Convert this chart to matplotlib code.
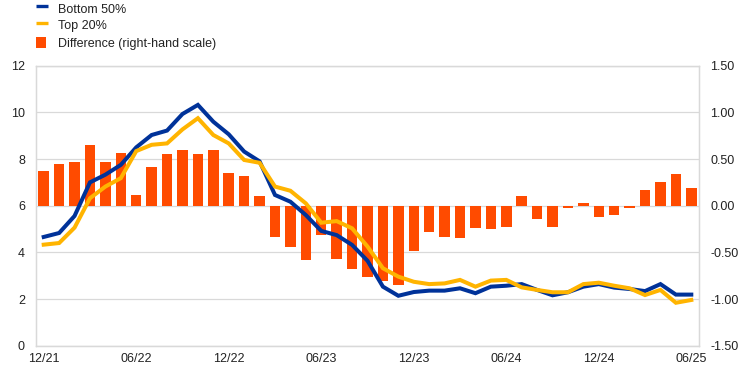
import matplotlib
matplotlib.use("Agg")
import matplotlib.pyplot as plt
from matplotlib.lines import Line2D
from matplotlib.patches import Rectangle

plt.rcParams['font.family'] = ['Liberation Sans', 'DejaVu Sans']

# ---- data (monthly, 12/21 .. 06/25) ----
bottom50 = [4.66, 4.83, 5.56, 7.00, 7.33, 7.75, 8.50, 9.03, 9.22, 9.93, 10.32, 9.60, 9.06, 8.32, 7.90,
            6.46, 6.17, 5.60, 4.92, 4.74, 4.32, 3.64, 2.53, 2.14, 2.30, 2.36, 2.36, 2.46, 2.25, 2.53,
            2.57, 2.64, 2.39, 2.16, 2.29, 2.53, 2.64, 2.49, 2.43, 2.34, 2.64, 2.19, 2.19]
top20 = [4.33, 4.40, 5.06, 6.32, 6.82, 7.18, 8.34, 8.61, 8.67, 9.27, 9.75, 9.03, 8.67, 7.96, 7.84,
         6.82, 6.64, 6.10, 5.27, 5.34, 5.03, 4.25, 3.32, 2.96, 2.74, 2.64, 2.67, 2.82, 2.53, 2.79,
         2.82, 2.50, 2.39, 2.29, 2.29, 2.64, 2.70, 2.57, 2.46, 2.17, 2.39, 1.84, 1.96]
difference = [0.37, 0.45, 0.47, 0.65, 0.47, 0.56, 0.11, 0.41, 0.55, 0.60, 0.55, 0.60, 0.35, 0.32, 0.10,
              -0.33, -0.44, -0.58, -0.31, -0.57, -0.675, -0.76, -0.81, -0.85, -0.48, -0.28, -0.33, -0.35,
              -0.235, -0.25, -0.225, 0.10, -0.14, -0.225, -0.02, 0.03, -0.12, -0.10, -0.02, 0.17, 0.25,
              0.34, 0.19]
tick_labels = ['12/21', '06/22', '12/22', '06/23', '12/23', '06/24', '12/24', '06/25']
tick_month_index = [0, 6, 12, 18, 24, 30, 36, 42]
left_ticks = [0, 2, 4, 6, 8, 10, 12]
right_ticks = [-1.5, -1.0, -0.5, 0.0, 0.5, 1.0, 1.5]
series_names = ['Bottom 50%', 'Top 20%', 'Difference (right-hand scale)']

BLUE = '#003299'
YELLOW = '#FFB400'
ORANGE = '#FF4B00'
GRID = '#d9d9d9'
TXT = '#222222'

W, H = 742, 371
fig = plt.figure(figsize=(W / 100, H / 100), dpi=100)
ax = fig.add_axes([36 / W, 1 - 345.7 / H, (699 - 36) / W, (345.7 - 65.7) / H])
ax2 = ax.twinx()

x = list(range(len(bottom50)))

# bars on right axis (behind)
ax2.bar(x, difference, width=0.68, color=ORANGE, zorder=2)
ax2.set_ylim(-1.5, 1.5)
ax2.set_yticks(right_ticks)
ax2.set_yticklabels([f"{v:.2f}" for v in right_ticks])
ax2.set_axisbelow(True)
ax2.grid(True, axis='both', which='major', color=GRID, linewidth=0.9)

# lines on left axis (front)
ax.plot(x, bottom50, color=BLUE, lw=2.9, solid_joinstyle='miter', zorder=3)
ax.plot(x, top20, color=YELLOW, lw=2.9, solid_joinstyle='miter', zorder=3)
ax.set_ylim(0, 12)
ax.set_yticks(left_ticks)
ax.set_yticklabels([str(v) for v in left_ticks])
ax.set_xlim(-0.5, len(x) - 0.5)
ax.set_xticks([i - 0.5 for i in tick_month_index])
ax.set_xticklabels([''] * len(tick_month_index))
ax.set_xticks(tick_month_index, minor=True)
ax.set_xticklabels(tick_labels, minor=True)
ax.set_zorder(ax2.get_zorder() + 1)
ax.patch.set_visible(False)

for a in (ax, ax2):
    for s in a.spines.values():
        s.set_color(GRID)
        s.set_linewidth(0.9)
    a.tick_params(which='both', length=0, labelsize=9, colors=TXT)
ax.tick_params(axis='y', pad=8)
ax2.tick_params(axis='y', pad=8)
ax.tick_params(axis='x', which='both', pad=5.5)

# legend, drawn by hand in figure pixels
def fx(px):
    return px / W

def fy(py):
    return 1 - py / H

handle_colors = [BLUE, YELLOW]
handle_y = [5.7, 22.7]
for c, yy in zip(handle_colors, handle_y):
    fig.add_artist(Line2D([fx(36), fx(48.3)], [fy(yy), fy(yy)], color=c, lw=2.4,
                          solid_capstyle='butt', transform=fig.transFigure))
fig.add_artist(Rectangle((fx(36), fy(47.5)), fx(45.8) - fx(36), fy(37.3) - fy(47.5),
                         facecolor=ORANGE, edgecolor='none', transform=fig.transFigure))
baselines = [13.3, 29.0, 46.6]
for name, b in zip(series_names, baselines):
    fig.text(fx(58), fy(b), name, fontsize=9, color=TXT, va='baseline', ha='left')

fig.savefig('out.png', dpi=100)
